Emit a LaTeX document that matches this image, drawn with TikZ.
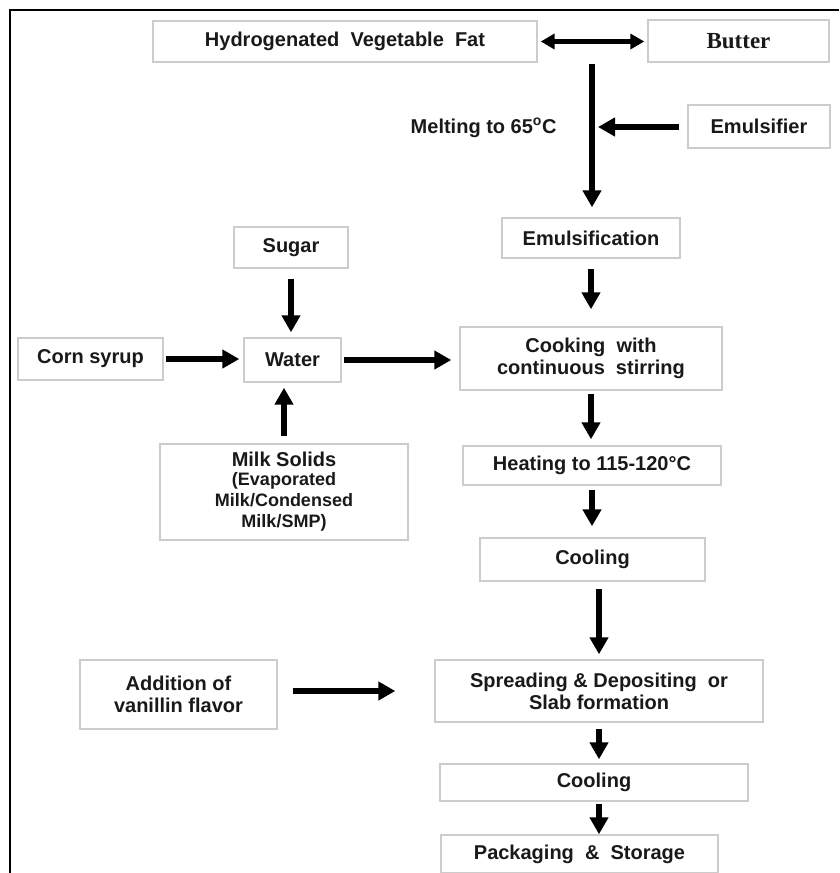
\documentclass[tikz,border=0pt]{standalone}
\usepackage{fontspec}
\setmainfont{Liberation Sans}
\newfontfamily\serifbf{Liberation Serif}
\usetikzlibrary{arrows.meta}

\newcommand{\chico}{\fontsize{18}{18}\selectfont}

\tikzset{
  caja/.style 2 args={draw=black!20, line width=1.4pt, minimum width=#1,
    minimum height=#2, align=center, inner sep=1pt, text=black!90,
    font=\bfseries\fontsize{20}{22}\selectfont},
  flecha/.style={line width=6pt, -{Triangle[length=17pt,width=18pt]}},
  doble/.style={line width=5pt, {Triangle[length=14pt,width=15pt]}-{Triangle[length=14pt,width=15pt]}},
}

\begin{document}
\begin{tikzpicture}[x=1pt,y=-1pt]
    % Fija el marco de la figura.
    \useasboundingbox (0,0) rectangle (839,873);
    \draw[line width=1.5pt] (839,10) -- (10,10) -- (10,873);

    % Dibuja las grasas de partida.
    \node[caja={384pt}{41pt}] (Fat) at (345,41.5) {Hydrogenated\ \ Vegetable\ \ Fat};
    \node[caja={181pt}{42pt}, font=\serifbf\bfseries\fontsize{23}{24}\selectfont] (Butter) at (738.5,41) {Butter};
    \draw[doble, shorten <=3pt, shorten >=3pt] (Fat.east) -- (Fat.east -| Butter.west);

    % Fusion y emulsificante.
    \coordinate (Top) at (592,64);
    \coordinate (Tip) at (598,127);
    \node[caja={142pt}{43pt}] (Emul) at (759,126.5) {Emulsifier};
    \node[font=\bfseries\fontsize{20}{22}\selectfont, text=black!90, anchor=east] (Melt) at (560,128)
        {Melting to 65\textsuperscript{o}C};
    \node[caja={178pt}{40pt}] (Emuls) at (591,238) {Emulsification};
    \draw[flecha, shorten >=10pt] (Top) -- (Top |- Emuls.north);
    \draw[flecha, shorten <=8pt] (Emul.west |- Tip) -- (Tip);

    % Ingredientes de la fase acuosa.
    \node[caja={114pt}{41pt}] (Sugar) at (291,247.5) {Sugar};
    \node[caja={97pt}{44pt}] (Water) at (292.5,360) {Water};
    \node[caja={145pt}{42pt}] (Corn) at (90.5,359) {Corn syrup};
    \node[caja={248pt}{96pt}] (Milk) at (284,492)
        {Milk Solids\\[-3pt]\chico(Evaporated\\[-1pt]\chico Milk/Condensed\\[-1pt]\chico Milk/SMP)};
    \draw[flecha, shorten <=10pt, shorten >=5pt] (Sugar.south) -- (Sugar.south |- Water.north);
    \draw[flecha, shorten <=2pt, shorten >=4pt] (Corn.east) -- (Corn.east -| Water.west);
    \draw[flecha, shorten <=7pt, shorten >=5pt] (Milk.north) -- (Milk.north |- Water.south);

    % Coccion y calentamiento.
    \node[caja={262pt}{63pt}] (Cook) at (591,358.5) {Cooking\ \ with\\continuous\ \ stirring};
    \node[caja={258pt}{39pt}] (Heat) at (592,465.5) {Heating to 115-120°C};
    \node[caja={225pt}{43pt}] (Cool) at (592.5,559.5) {Cooling};
    \draw[flecha, shorten <=2pt, shorten >=8pt] (Water.east) -- (Water.east -| Cook.west);
    \draw[flecha, shorten <=10pt, shorten >=17pt] (Emuls.south) -- (Emuls.south |- Cook.north);
    \draw[flecha, shorten <=3pt, shorten >=6pt] (Cook.south) -- (Cook.south |- Heat.north);
    \draw[flecha, shorten <=4pt, shorten >=11pt] (Heat.south) -- (Heat.south |- Cool.north);

    % Moldeado, enfriado y empaque.
    \node[caja={197pt}{69pt}] (Van) at (178.5,694.5) {Addition of\\vanillin flavor};
    \node[caja={328pt}{62pt}] (Spread) at (599,691) {Spreading \& Depositing\ \ or\\Slab formation};
    \node[caja={308pt}{37pt}] (CoolB) at (594,782.5) {Cooling};
    \node[caja={277pt}{38pt}] (Pack) at (579.5,854) {Packaging\ \ \&\ \ Storage};
    \draw[flecha, shorten <=15pt, shorten >=39pt] (Van.east |- Spread.west) -- (Spread.west);
    \draw[flecha, shorten <=7pt, shorten >=5pt] (Cool.south -| Spread.north) -- (Spread.north);
    \draw[flecha, shorten <=6pt, shorten >=4pt] (Spread.south) -- (Spread.south |- CoolB.north);
    \draw[flecha, shorten <=2pt, shorten >=0pt] (CoolB.south -| Spread.south) -- (Spread.south |- Pack.north);
\end{tikzpicture}
\end{document}
